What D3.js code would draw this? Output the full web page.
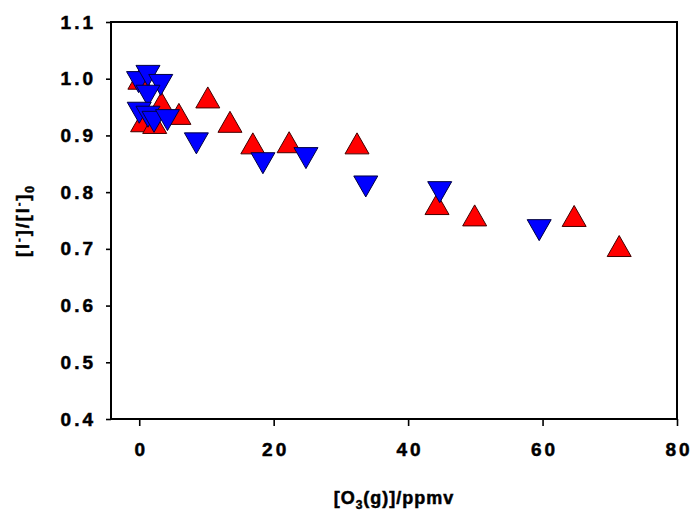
<!DOCTYPE html>
<html>
<head>
<meta charset="utf-8">
<script src="https://cdn.jsdelivr.net/npm/d3@7"></script>
<style>
  body { margin: 0; background: #fff; }
  svg text { font-family: "Liberation Sans", Arial, sans-serif; font-weight: bold; fill: #000; stroke: #000; stroke-width: 0.5px; }
</style>
</head>
<body>
<div id="chart"></div>
<script>
// Datos
const redX = [0.1, 0.5, 2.3, 3.3, 5.9, 10.2, 13.5, 16.9, 22.3, 32.4, 44.3, 49.9, 64.7, 71.4];
const redY = [1.000, 0.925, 0.922, 0.958, 0.938, 0.967, 0.924, 0.886, 0.888, 0.886, 0.779, 0.759, 0.758, 0.705];
const blueX = [-0.1, 1.3, 3.2, 1.3, 0.0, 1.3, 2.2, 4.2, 8.5, 18.4, 24.8, 33.7, 44.7, 59.5];
const blueY = [0.994, 1.005, 0.989, 0.970, 0.940, 0.933, 0.924, 0.927, 0.886, 0.851, 0.860, 0.810, 0.800, 0.733];
const xTicks = [0, 20, 40, 60, 80];
const yTicks = [0.4, 0.5, 0.6, 0.7, 0.8, 0.9, 1.0, 1.1];

const width = 694, height = 515;
const margin = { top: 22, right: 17, bottom: 96, left: 111 };

const svg = d3.select('#chart')
    .append('svg')
    .attr('width', width)
    .attr('height', height);

const x = d3.scaleLinear().domain([-4.2, 80]).range([margin.left, width - margin.right]);
const y = d3.scaleLinear().domain([0.4, 1.1]).range([height - margin.bottom, margin.top]);

// Ejes
const xAxis = svg.append('g')
    .attr('transform', `translate(0,${height - margin.bottom})`)
    .call(d3.axisBottom(x).tickValues(xTicks).tickSize(7).tickPadding(17).tickFormat(d3.format('d')));
const yAxis = svg.append('g')
    .attr('transform', `translate(${margin.left},0)`)
    .call(d3.axisLeft(y).tickValues(yTicks).tickSize(5).tickPadding(10).tickFormat(d3.format('.1f')));

[xAxis, yAxis].forEach(g => {
    g.select('.domain').remove();
    g.selectAll('line').attr('stroke', '#000').attr('stroke-width', 1.6);
    g.selectAll('text')
        .attr('font-size', '19px')
        .style('font-family', '"Liberation Sans", Arial, sans-serif')
        .style('letter-spacing', '3px');
});
// compensar el espacio final del letter-spacing en las etiquetas centradas
xAxis.selectAll('text').attr('dx', '1.5px');

// Marco
svg.append('rect')
    .attr('x', x(-4.2))
    .attr('y', y(1.1))
    .attr('width', x(80) - x(-4.2))
    .attr('height', y(0.4) - y(1.1))
    .attr('fill', 'none')
    .attr('stroke', '#000')
    .attr('stroke-width', 2);

// Triángulos
const tw = 24, th = 21;
const upPath = `M0,${-th / 2}L${tw / 2},${th / 2}L${-tw / 2},${th / 2}Z`;
const downPath = `M0,${th / 2}L${tw / 2},${-th / 2}L${-tw / 2},${-th / 2}Z`;

svg.append('g')
    .selectAll('path')
    .data(redX.map((d, i) => [d, redY[i]]))
    .enter().append('path')
    .attr('d', upPath)
    .attr('transform', d => `translate(${x(d[0])},${y(d[1])})`)
    .attr('fill', '#ff0000')
    .attr('stroke', '#400000')
    .attr('stroke-width', 1);

svg.append('g')
    .selectAll('path')
    .data(blueX.map((d, i) => [d, blueY[i]]))
    .enter().append('path')
    .attr('d', downPath)
    .attr('transform', d => `translate(${x(d[0])},${y(d[1])})`)
    .attr('fill', '#0000ff')
    .attr('stroke', '#000040')
    .attr('stroke-width', 1);

// Títulos de ejes
const xt = svg.append('text')
    .attr('x', (x(-4.2) + x(80)) / 2)
    .attr('y', 504)
    .attr('text-anchor', 'middle')
    .attr('font-size', '18px')
    .style('letter-spacing', '1px');
xt.append('tspan').text('[O');
xt.append('tspan').attr('font-size', '12px').attr('dy', 5).text('3');
xt.append('tspan').attr('dy', -5).text('(g)]/ppmv');

const yt = svg.append('text')
    .attr('transform', `translate(29,${(y(0.4) + y(1.1)) / 2}) rotate(-90)`)
    .attr('text-anchor', 'middle')
    .attr('font-size', '18px')
    .style('letter-spacing', '2px');
yt.append('tspan').text('[I');
yt.append('tspan').attr('font-size', '11px').attr('dy', -7).text('-');
yt.append('tspan').attr('dy', 7).text(']/[I');
yt.append('tspan').attr('font-size', '11px').attr('dy', -7).text('-');
yt.append('tspan').attr('dy', 7).text(']');
yt.append('tspan').attr('font-size', '12px').attr('dy', 5).text('0');
</script>
</body>
</html>
